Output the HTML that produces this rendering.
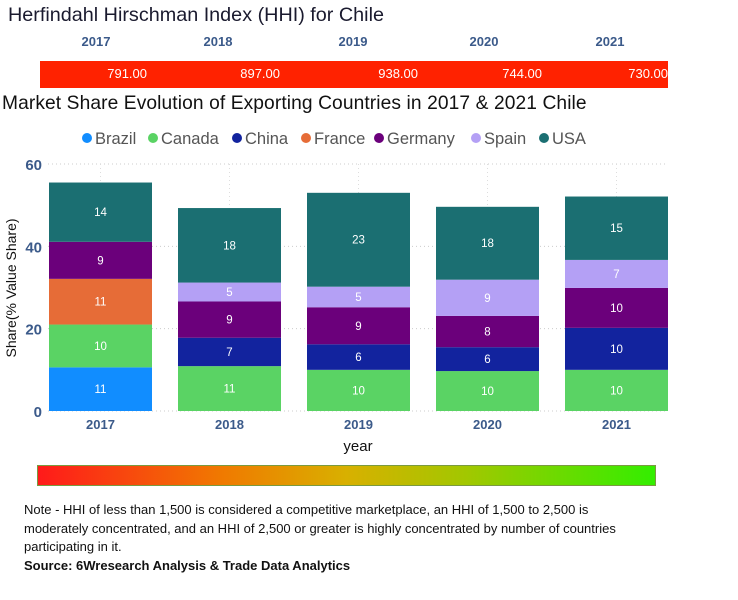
<!DOCTYPE html>
<html><head><meta charset="utf-8">
<style>
html,body{margin:0;padding:0;background:#fff;width:738px;height:600px;overflow:hidden;font-family:"Liberation Sans",sans-serif;}
.abs{position:absolute;}
#hhiyears{position:absolute;left:0;top:0;z-index:5;}
</style></head>
<body>
<div class="abs" style="left:8px;top:4px;font-size:19.8px;color:#1a1a2e;">Herfindahl Hirschman Index (HHI) for Chile</div>
<div class="abs" style="left:40px;top:61px;width:628px;height:27px;background:#ff2200;"></div>
<div id="hhiyears"></div>
<div class="abs" style="left:2px;top:93px;font-size:19.2px;letter-spacing:0.1px;color:#111;">Market Share Evolution of Exporting Countries in 2017 &amp; 2021 Chile</div>
<svg id="chart" class="abs" style="left:0;top:0" width="738" height="600"></svg>
<div class="abs" style="left:37px;top:465px;width:617px;height:19px;border:1px solid #7a9a40;background:linear-gradient(to right,#ff1a1a,#f07a00 30%,#d8b000 50%,#a0c800 70%,#33ee00);"></div>
<div class="abs" style="left:24px;top:501px;width:700px;font-size:13px;line-height:18.5px;color:#111;white-space:nowrap;">Note - HHI of less than 1,500 is considered a competitive marketplace, an HHI of 1,500 to 2,500 is<br>moderately concentrated, and an HHI of 2,500 or greater is highly concentrated by number of countries<br>participating in it.<br><b>Source: 6Wresearch Analysis &amp; Trade Data Analytics</b></div>
<script>
const years = ["2017","2018","2019","2020","2021"];
const hhiValues = ["791.00","897.00","938.00","744.00","730.00"];
const countries = ["Brazil","Canada","China","France","Germany","Spain","USA"];
const colors = ["#118dff","#5ad364","#12239e","#e66c37","#6b007b","#b4a0f5","#1b6f72"];
const brazil  = [10.6,0,0,0,0];
const canada  = [10.4,10.9,10,9.7,10];
const china   = [0,6.9,6.2,5.8,10.2];
const france  = [11.1,0,0,0,0];
const germany = [9,8.8,9,7.6,9.7];
const spain   = [0,4.6,5,8.8,6.8];
const usa     = [14.4,18.1,22.8,17.7,15.4];
const series = [brazil,canada,china,france,germany,spain,usa];
const yTicks = [0,20,40,60];

const hy = document.getElementById('hhiyears');
const yearX = [96,218,353,484,610];
const valX = [147,280,418,542,668];
years.forEach((y,i)=>{
  const d=document.createElement('div');
  d.className='abs';
  
  
  d.style.cssText='top:34px;width:60px;text-align:center;font-size:13px;font-weight:bold;color:#3b5a8a;';
  d.style.left=(yearX[i]-30)+'px';
  d.textContent=y;hy.appendChild(d);
  const v=document.createElement('div');
  v.className='abs';
  
  
  v.style.cssText='top:66px;font-size:13px;color:#fff;text-align:right;width:80px;';
  v.style.left=(valX[i]-80)+'px';
  v.textContent=hhiValues[i];hy.appendChild(v);
});

const svg=document.getElementById('chart');
const NS='http://www.w3.org/2000/svg';
function el(t,a){const e=document.createElementNS(NS,t);for(const k in a)e.setAttribute(k,a[k]);svg.appendChild(e);return e;}
const y0=411, pxPerUnit=247/60;
const yS=v=>y0-v*pxPerUnit;
const xC=i=>100.5+i*129;
const bw=103;

yTicks.forEach(t=>{
  const l=el('line',{x1:48,x2:668,y1:yS(t),y2:yS(t),stroke:'#ccc','stroke-dasharray':'1,3'});
  
  
  const tx=el('text',{x:42,y:yS(t)+6,'text-anchor':'end','font-size':15,'font-weight':'bold',fill:'#3b5a8a','font-family':'Liberation Sans'});
  tx.textContent=t;
  
  
});
years.forEach((y,i)=>{
  const g=el('line',{x1:xC(i),x2:xC(i),y1:yS(60),y2:y0,stroke:'#ddd','stroke-dasharray':'1,3'});
  
  
});
years.forEach((y,i)=>{
  let base=0;
  series.forEach((s,k)=>{
    const v=s[i]; if(!v) return;
    const r=el('rect',{x:xC(i)-bw/2,y:yS(base+v),width:bw,height:v*pxPerUnit,fill:colors[k]});
    
    
    const t=el('text',{x:xC(i),y:yS(base+v/2)+4,'text-anchor':'middle','font-size':11.5,fill:'#fff','font-family':'Liberation Sans'});
    t.textContent=Math.round(v);
    
    
    base+=v;
  });
  const xt=el('text',{x:xC(i),y:429,'text-anchor':'middle','font-size':13,'font-weight':'bold',fill:'#3b5a8a','font-family':'Liberation Sans'});
  xt.textContent=y;
  
  
});
const xa=el('text',{x:358,y:451,'text-anchor':'middle','font-size':15,fill:'#111','font-family':'Liberation Sans'});
xa.textContent='year';


const ya=el('text',{x:0,y:0,'text-anchor':'middle','font-size':14,fill:'#111','font-family':'Liberation Sans',transform:'translate(16,288) rotate(-90)'});
ya.textContent='Share(% Value Share)';


const legX=[87,153,237,306,379,476,544];
countries.forEach((c,k)=>{
  const ci=el('circle',{cx:legX[k],cy:138,r:5,fill:colors[k]});
  
  
  const t=el('text',{x:legX[k]+8,y:144,'font-size':16.5,fill:'#555','font-family':'Liberation Sans'});
  t.textContent=c;
  
  
});
</script>
</body></html>
